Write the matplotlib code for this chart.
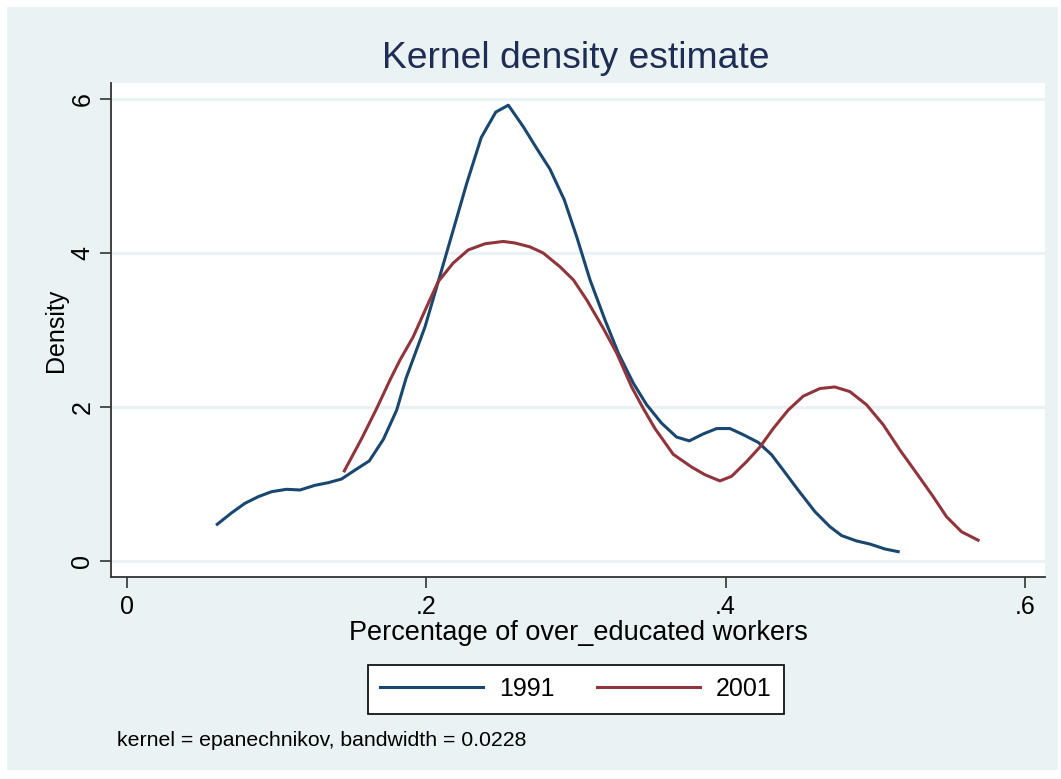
import matplotlib
matplotlib.use("Agg")
from matplotlib import pyplot as plt
from matplotlib.patches import Rectangle

# density curves
x_1991 = [0.0603, 0.0700, 0.0788, 0.0877, 0.0966, 0.1066, 0.1156, 0.1256, 0.1345, 0.1434,
          0.1523, 0.1619, 0.1713, 0.1802, 0.1864, 0.1991, 0.2080, 0.2180, 0.2270, 0.2367,
          0.2464, 0.2548, 0.2648, 0.2737, 0.2826, 0.2922, 0.3005, 0.3094, 0.3194, 0.3283,
          0.3383, 0.3472, 0.3572, 0.3672, 0.3757, 0.3850, 0.3940, 0.4029, 0.4118, 0.4218,
          0.4307, 0.4385, 0.4485, 0.4597, 0.4697, 0.4775, 0.4875, 0.4964, 0.5064, 0.5153]
y_1991 = [0.477, 0.627, 0.749, 0.835, 0.900, 0.931, 0.922, 0.983, 1.017, 1.065,
          1.180, 1.300, 1.580, 1.960, 2.370, 3.040, 3.630, 4.300, 4.905, 5.500,
          5.830, 5.920, 5.640, 5.360, 5.090, 4.690, 4.210, 3.650, 3.130, 2.700,
          2.310, 2.030, 1.790, 1.610, 1.560, 1.650, 1.720, 1.720, 1.640, 1.540,
          1.380, 1.180, 0.920, 0.640, 0.445, 0.330, 0.260, 0.220, 0.156, 0.121]

x_2001 = [0.1452, 0.1568, 0.1668, 0.1757, 0.1824, 0.1912, 0.2002, 0.2080, 0.2180, 0.2280,
          0.2392, 0.2514, 0.2592, 0.2692, 0.2781, 0.2894, 0.2983, 0.3072, 0.3183, 0.3272,
          0.3372, 0.3450, 0.3528, 0.3650, 0.3773, 0.3862, 0.3962, 0.4040, 0.4140, 0.4229,
          0.4318, 0.4418, 0.4518, 0.4630, 0.4730, 0.4830, 0.4941, 0.5053, 0.5165, 0.5276,
          0.5387, 0.5476, 0.5576, 0.5687]
y_2001 = [1.170, 1.590, 1.980, 2.350, 2.610, 2.910, 3.300, 3.630, 3.870, 4.040,
          4.120, 4.150, 4.130, 4.080, 4.000, 3.820, 3.650, 3.390, 3.020, 2.700,
          2.260, 1.980, 1.720, 1.385, 1.220, 1.120, 1.040, 1.100, 1.290, 1.480,
          1.720, 1.960, 2.140, 2.240, 2.260, 2.200, 2.030, 1.770, 1.440, 1.140,
          0.835, 0.575, 0.380, 0.270]

x_ticks = [0, 0.2, 0.4, 0.6]
x_ticklabels = ["0", ".2", ".4", ".6"]
y_ticks = [0, 2, 4, 6]

bg = "#EAF2F3"
navy = "#1A476F"
maroon = "#90353B"

plt.rcParams['font.family'] = ['Liberation Sans', 'DejaVu Sans']

fig = plt.figure(figsize=(10.61, 7.79), dpi=100)
fig.patch.set_facecolor("white")
fig.patches.append(Rectangle((7 / 1061, 9 / 779), 1051 / 1061, 763 / 779,
                             transform=fig.transFigure, facecolor=bg, edgecolor="none", zorder=-10))

ax = fig.add_axes([111 / 1061, 1 - 577 / 779, 934 / 1061, 494 / 779])
ax.set_zorder(1)
ax.set_facecolor("white")
ax.plot(x_1991, y_1991, color=navy, lw=2.2, label="1991", zorder=3)
ax.plot(x_2001, y_2001, color=maroon, lw=2.2, label="2001", zorder=3)

ax.set_xlim(-0.0107, 0.6134)
ax.set_ylim(-0.208, 6.208)
ax.set_xticks(x_ticks)
ax.set_xticklabels(x_ticklabels)
ax.set_yticks(y_ticks)
ax.set_yticklabels([str(t) for t in y_ticks], rotation=90, va="center")
ax.tick_params(axis="both", length=8, width=1.2, color="#333333", labelsize=18)
ax.tick_params(axis="x", pad=5)
ax.tick_params(axis="y", pad=4)
for t in y_ticks:
    ax.axhline(t, color=bg, lw=2.2, zorder=1)

for s in ["top", "right"]:
    ax.spines[s].set_visible(False)
for s in ["left", "bottom"]:
    ax.spines[s].set_color("#333333")
    ax.spines[s].set_linewidth(1.3)

ax.set_xlabel("Percentage of over_educated workers", fontsize=19.5, labelpad=1)
ax.set_ylabel("Density", fontsize=18, labelpad=2)
fig.suptitle("Kernel density estimate", fontsize=26.8, color="#1E2D53", x=576 / 1061, y=1 - 58 / 779, va="center")

leg = fig.legend(loc="center", bbox_to_anchor=(576 / 1061, 1 - 689 / 779), ncol=2, fontsize=18,
                 frameon=True, fancybox=False, edgecolor="black", framealpha=1, facecolor="white",
                 handlelength=4.1, columnspacing=1.7, handletextpad=0.65, borderpad=0.5)
leg.get_frame().set_linewidth(1.2)

fig.text(117 / 1061, 1 - 740 / 779, "kernel = epanechnikov, bandwidth = 0.0228", fontsize=15.3, va="center")

fig.savefig("out.png", dpi=100, facecolor=fig.get_facecolor())
